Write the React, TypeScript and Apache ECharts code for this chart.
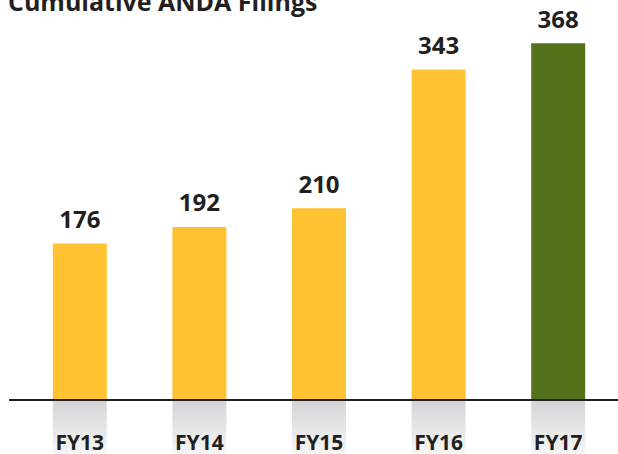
import React, { useEffect, useRef } from "react";
import * as echarts from "echarts";

const categories = ["FY13", "FY14", "FY15", "FY16", "FY17"];
const values = [176, 192, 210, 343, 368];
const barColors = ["#FEC233", "#FEC233", "#FEC233", "#FEC233", "#547219"];
const titleText = "Cumulative ANDA Filings";

export default function App() {
  const ref = useRef<HTMLDivElement>(null);
  useEffect(() => {
    if (!ref.current) return;
    const chart = echarts.init(ref.current, undefined, { renderer: "svg" });
    const yMin = 26;
    chart.setOption({
      animation: false,
      backgroundColor: "#ffffff",
      title: {
        text: titleText,
        left: 8,
        top: -12,
        padding: 0,
        textStyle: {
          fontFamily: "Open Sans",
          fontWeight: "bold",
          fontSize: 25,
          color: "#231F20",
        },
      },
      grid: { left: 20, right: -2, top: 10, bottom: 54, containLabel: false },
      xAxis: {
        type: "category",
        data: categories,
        z: 10,
        axisLine: { show: true, lineStyle: { color: "#231F20", width: 2 } },
        axisTick: { show: false },
        axisLabel: {
          margin: 31,
          fontFamily: "Open Sans",
          fontWeight: "bold",
          fontSize: 21,
          color: "#231F20",
        },
      },
      yAxis: {
        type: "value",
        min: yMin,
        max: 400,
        show: false,
        splitLine: { show: false },
      },
      graphic: [
        {
          type: "line",
          z: 100,
          shape: { x1: 9, y1: 400, x2: 22, y2: 400 },
          style: { stroke: "#231F20", lineWidth: 2 },
        },
      ],
      series: [
        {
          type: "custom",
          z: -1,
          clip: false,
          silent: true,
          data: values.map((v, i) => [i, v]),
          renderItem: (params: any, api: any) => {
            const p = api.coord([api.value(0), yMin]);
            const w = 54;
            return {
              type: "rect",
              shape: { x: p[0] - w / 2, y: p[1], width: w, height: 54 },
              style: {
                fill: new echarts.graphic.LinearGradient(0, 0, 0, 1, [
                  { offset: 0, color: "#D3D4D6" },
                  { offset: 1, color: "#F6F6F6" },
                ]),
              },
            };
          },
        },
        {
          type: "bar",
          barWidth: 54,
          data: values.map((v, i) => ({ value: v, itemStyle: { color: barColors[i] } })),
          label: {
            show: true,
            position: "top",
            distance: 13,
            fontFamily: "Open Sans",
            fontWeight: "bold",
            fontSize: 24,
            color: "#231F20",
          },
        },
      ],
    });
    return () => chart.dispose();
  }, []);
  return <div ref={ref} style={{ width: 618, height: 454, position: "absolute", left: 0, top: 0 }} />;
}
